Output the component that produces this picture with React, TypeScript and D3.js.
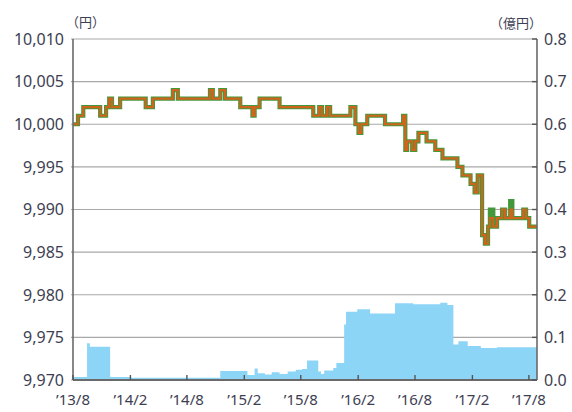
import React from "react";
import * as d3 from "d3";

// ---- Data ----
const navDates = [
  "2013-08-01","2013-08-17","2013-09-03","2013-10-27","2013-11-15","2013-11-25","2013-12-04","2013-12-30",
  "2014-03-22","2014-04-14","2014-06-17","2014-07-03","2014-10-14","2014-10-23","2014-11-16","2014-12-01",
  "2015-01-19","2015-02-27","2015-03-06","2015-03-22","2015-05-25","2015-09-10","2015-09-29","2015-10-08",
  "2015-10-24","2015-11-03","2016-01-07","2016-01-23","2016-02-02","2016-02-11","2016-03-01","2016-04-27",
  "2016-06-24","2016-07-01","2016-07-07","2016-07-23","2016-08-02","2016-08-12","2016-09-07","2016-10-05",
  "2016-10-28","2016-12-15","2016-12-31","2017-01-26","2017-02-08","2017-02-18","2017-03-04","2017-03-13",
  "2017-03-23","2017-03-29","2017-04-09","2017-04-21","2017-05-07","2017-05-17","2017-06-02","2017-06-09",
  "2017-07-14","2017-07-23","2017-08-02"
];
const navGreen = [
  10000,10001,10002,10001,10002,10003,10002,10003,
  10002,10003,10004,10003,10004,10003,10004,10003,
  10002,10001,10002,10003,10002,10001,10002,10001,
  10002,10001,10002,10000,9999,10000,10001,10000,
  10001,9997,9998,9997,9998,9999,9998,9997,
  9996,9995,9994,9993,9992,9994,9987,9986,
  9988,9990,9988,9989,9990,9989,9991,9989,
  9990,9989,9988
];
const navOrange = [
  10000,10001,10002,10001,10002,10003,10002,10003,
  10002,10003,10004,10003,10004,10003,10004,10003,
  10002,10001,10002,10003,10002,10001,10002,10001,
  10002,10001,10002,10000,9999,10000,10001,10000,
  10001,9997,9998,9997,9998,9999,9998,9997,
  9996,9995,9994,9993,9992,9994,9987,9986,
  9988,9989,9988,9989,9990,9989,9990,9989,
  9990,9989,9988
];

const volDates = [
  "2013-08-01","2013-09-15","2013-09-24","2013-11-28","2014-02-01","2014-11-16","2015-02-11","2015-03-06",
  "2015-03-16","2015-04-08","2015-04-30","2015-05-25","2015-06-20","2015-07-16","2015-08-05","2015-08-21",
  "2015-09-26","2015-10-05","2015-10-15","2015-11-13","2015-11-23","2015-12-18","2015-12-24","2016-01-29",
  "2016-03-10","2016-05-29","2016-07-26","2016-10-21","2016-11-13","2016-12-02","2016-12-18","2017-01-17",
  "2017-02-28","2017-04-21"
];
const volValues = [
  0.007,0.086,0.078,0.007,0.005,0.021,0.012,0.027,
  0.016,0.013,0.018,0.014,0.02,0.024,0.026,0.046,
  0.02,0.014,0.022,0.028,0.04,0.13,0.16,0.166,
  0.156,0.18,0.178,0.181,0.176,0.083,0.091,0.08,
  0.075,0.077
];

const leftTicks = [9970, 9975, 9980, 9985, 9990, 9995, 10000, 10005, 10010];
const rightTicks = [0, 0.1, 0.2, 0.3, 0.4, 0.5, 0.6, 0.7, 0.8];
const xTickDates = ["2013-08-01","2014-02-01","2014-08-01","2015-02-01","2015-08-01","2016-02-01","2016-08-01","2017-02-01","2017-08-01"];
const leftUnit = "（円）";
const rightUnit = "（億円）";

const W = 572, H = 412;
const L = 73, R = 537, T = 39, B = 380;
const parse = d3.timeParse("%Y-%m-%d");
const startDate = parse("2013-08-01")!;
const endDate = parse("2017-08-27")!;

export default function App() {
  const x = d3.scaleTime().domain([startDate, endDate]).range([L, R]);
  const yL = d3.scaleLinear().domain([9970, 10010]).range([B, T]);
  const yR = d3.scaleLinear().domain([0, 0.8]).range([B, T]);

  const mk = (dates: string[], vals: number[]) => {
    const pts = dates.map((d, i) => ({ date: parse(d)!, v: vals[i] }));
    pts.push({ date: endDate, v: vals[vals.length - 1] });
    return pts;
  };
  const gData = mk(navDates, navGreen);
  const oData = mk(navDates, navOrange);
  const vData = mk(volDates, volValues);

  const line = d3.line<{ date: Date; v: number }>()
    .x(d => x(d.date)).y(d => yL(d.v)).curve(d3.curveStepAfter);
  const area = d3.area<{ date: Date; v: number }>()
    .x(d => x(d.date)).y0(yR(0)).y1(d => yR(d.v)).curve(d3.curveStepAfter);

  const fmtL = d3.format(",");
  const fmtR = d3.format(".1f");
  const fmtX = (d: Date) => "’" + d3.timeFormat("%y")(d) + "/" + (d.getMonth() + 1);
  const textColor = "#3e3e52";
  const font = "'Noto Sans', 'Noto Sans CJK JP', sans-serif";

  return (
    <svg width={W} height={H} style={{ position: "absolute", left: 0, top: 0, background: "#fff" }}
      fontFamily={font}>
      <defs>
        <clipPath id="plot"><rect x={L} y={T} width={R - L} height={B - T} /></clipPath>
      </defs>
      {/* grid */}
      {leftTicks.map(t => (
        <line key={"g" + t} x1={L - 2} x2={R} y1={yL(t)} y2={yL(t)} stroke="#a8a8a8" strokeWidth={1.2} />
      ))}
      <g clipPath="url(#plot)">
        <path d={area(vData)!} fill="#8dd5f6" />
        <path d={line(gData)!} fill="none" stroke="#43983c" strokeWidth={4.2} strokeLinejoin="miter" />
        <path d={line(oData)!} fill="none" stroke="#cf641d" strokeWidth={2.2} strokeLinejoin="miter" />
      </g>
      {/* axes */}
      <line x1={L} x2={L} y1={T} y2={B} stroke="#6a6a6a" strokeWidth={1.6} />
      <line x1={R} x2={R} y1={T} y2={B} stroke="#6a6a6a" strokeWidth={1.6} />
      <line x1={L} x2={R} y1={B} y2={B} stroke="#6a6a6a" strokeWidth={1.8} />
      {rightTicks.map(t => (
        <line key={"rt" + t} x1={R - 5} x2={R} y1={yR(t)} y2={yR(t)} stroke="#555" strokeWidth={1.4} />
      ))}
      {xTickDates.map(d => (
        <line key={"xt" + d} x1={x(parse(d)!)} x2={x(parse(d)!)} y1={B} y2={B - 5} stroke="#555" strokeWidth={1.4} />
      ))}
      {/* labels */}
      {leftTicks.map(t => (
        <text key={"lt" + t} x={64} y={yL(t)} dy="0.36em" textAnchor="end" fontSize={16} fill={textColor}>{fmtL(t)}</text>
      ))}
      {rightTicks.map(t => (
        <text key={"rl" + t} x={544} y={yR(t)} dy="0.36em" textAnchor="start" fontSize={16} fill={textColor}>{fmtR(t)}</text>
      ))}
      {xTickDates.map(d => (
        <text key={"xl" + d} x={x(parse(d)!)} y={405} textAnchor="middle" fontSize={15} fill={textColor}>{fmtX(parse(d)!)}</text>
      ))}
      <text x={66} y={27} fontSize={13} fill={textColor}>{leftUnit}</text>
      <text x={542} y={28} textAnchor="end" fontSize={13} fill={textColor}>{rightUnit}</text>
    </svg>
  );
}
